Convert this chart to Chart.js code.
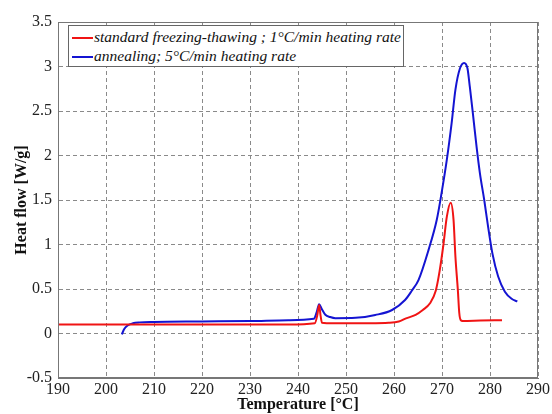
<!DOCTYPE html>
<html>
<head>
<meta charset="utf-8">
<script src="https://cdn.jsdelivr.net/npm/chart.js@4.4.0/dist/chart.umd.min.js"></script>
<style>
  html, body { margin: 0; padding: 0; background: #fff; }
  #wrap { position: relative; width: 552px; height: 414px; }
  #legend {
    position: absolute; left: 68px; top: 25px; width: 334px; height: 40px;
    border: 1px solid #666; background: #fff;
    font: italic 15.5px "Liberation Serif", "Times New Roman", serif; color: #111;
  }
  #legend div { position: absolute; left: 3px; white-space: nowrap; line-height: 18px; }
  #legend span.ln { display: inline-block; width: 21px; height: 2px; vertical-align: middle; margin-right: 1px; }
</style>
</head>
<body>
<div id="wrap">
  <canvas id="dscChart" width="552" height="414"></canvas>
  <div id="legend">
    <div style="top:2px"><span class="ln" style="background:#f01414"></span>standard freezing-thawing ; 1°C/min heating rate</div>
    <div style="top:21px"><span class="ln" style="background:#1414d2"></span>annealing; 5°C/min heating rate</div>
  </div>
</div>
<script>
// temperature [°C] and heat flow [W/g]
const redTemp = [190, 200, 210, 220, 230, 238, 243.5, 244.0, 244.4, 244.7, 245.0, 246, 250, 255, 258.9, 261, 262.5, 264.5, 266, 267.5, 268.7, 269.5, 270.3, 271.0, 271.8, 272.4, 272.8, 273.3, 273.6, 273.9, 274.3, 278, 282.5];
const redFlow = [0.10, 0.10, 0.10, 0.10, 0.10, 0.10, 0.115, 0.2, 0.32, 0.2, 0.12, 0.115, 0.115, 0.115, 0.12, 0.135, 0.17, 0.21, 0.265, 0.34, 0.48, 0.7, 1.0, 1.31, 1.47, 1.28, 0.86, 0.49, 0.23, 0.15, 0.14, 0.145, 0.15];

const blueTemp = [203.3, 203.8, 204.5, 205.6, 207, 210, 220, 230, 238, 243.3, 243.9, 244.4, 244.9, 245.7, 246.7, 247.8, 252, 256.1, 259.6, 262.3, 263.7, 265.1, 267.2, 268.9, 269.9, 271.0, 272.0, 272.8, 273.75, 274.6, 275.3, 275.8, 276.5, 277.2, 277.9, 278.8, 279.6, 280.5, 281.7, 283.1, 284.5, 285.7];
const blueFlow = [-0.01, 0.05, 0.09, 0.115, 0.125, 0.13, 0.135, 0.14, 0.15, 0.165, 0.24, 0.33, 0.28, 0.21, 0.185, 0.172, 0.176, 0.208, 0.264, 0.376, 0.48, 0.60, 0.94, 1.275, 1.575, 1.95, 2.36, 2.74, 2.98, 3.04, 2.98, 2.77, 2.44, 2.10, 1.80, 1.50, 1.20, 0.90, 0.64, 0.47, 0.39, 0.36];

const xTicks = [190, 200, 210, 220, 230, 240, 250, 260, 270, 280, 290];
const yTicks = [-0.5, 0, 0.5, 1, 1.5, 2, 2.5, 3, 3.5];

const toPoints = (xs, ys) => xs.map((x, i) => ({ x: x, y: ys[i] }));
const serif = '"Liberation Serif", "Times New Roman", serif';

const frame = {
  id: 'frame',
  afterDraw(chart) {
    const a = chart.chartArea, c = chart.ctx;
    c.save();
    c.strokeStyle = '#777';
    c.lineWidth = 1;
    c.strokeRect(a.left + 0.5, a.top + 0.5, a.right - a.left - 1, a.bottom - a.top - 1);
    c.restore();
  }
};

new Chart(document.getElementById('dscChart').getContext('2d'), {
  type: 'scatter',
  data: {
    datasets: [
      {
        label: 'standard freezing-thawing ; 1°C/min heating rate',
        data: toPoints(redTemp, redFlow),
        showLine: true,
        borderColor: '#f01414',
        borderWidth: 2,
        pointRadius: 0,
        cubicInterpolationMode: 'monotone'
      },
      {
        label: 'annealing; 5°C/min heating rate',
        data: toPoints(blueTemp, blueFlow),
        showLine: true,
        borderColor: '#1414d2',
        borderWidth: 2,
        pointRadius: 0,
        cubicInterpolationMode: 'monotone'
      }
    ]
  },
  options: {
    responsive: false,
    animation: false,
    layout: { padding: { top: 22, right: 12, left: 0, bottom: 0 } },
    plugins: { legend: { display: false }, tooltip: { enabled: false } },
    scales: {
      x: {
        type: 'linear',
        min: 190, max: 290,
        afterBuildTicks: s => { s.ticks = xTicks.map(v => ({ value: v })); },
        afterFit: s => { s.height = 36; },
        grid: { color: '#8a8a8a', drawTicks: false },
        border: { display: true, color: '#777', dash: [4, 3] },
        ticks: { color: '#222', padding: 2, font: { family: serif, size: 16 }, callback: v => String(v) },
        title: { display: true, text: 'Temperature [°C]', color: '#111', padding: 0, font: { family: serif, size: 16, weight: 'bold' } }
      },
      y: {
        min: -0.5, max: 3.5,
        afterBuildTicks: s => { s.ticks = yTicks.map(v => ({ value: v })); },
        afterFit: s => { s.width = 58; },
        grid: { color: '#8a8a8a', drawTicks: false },
        border: { display: true, color: '#777', dash: [4, 3] },
        ticks: { color: '#222', padding: 6, font: { family: serif, size: 16 }, callback: v => String(v) },
        title: { display: true, text: 'Heat flow [W/g]', color: '#111', padding: { top: 12, bottom: 0 }, font: { family: serif, size: 16, weight: 'bold' } }
      }
    }
  },
  plugins: [frame]
});
</script>
</body>
</html>
